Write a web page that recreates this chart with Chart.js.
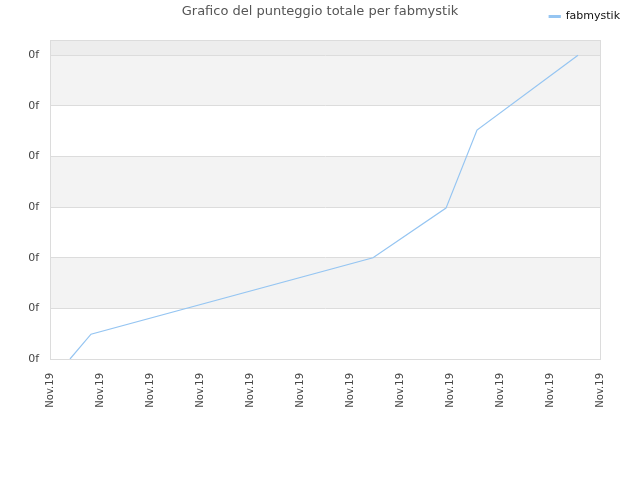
<!DOCTYPE html>
<html>
<head>
<meta charset="utf-8">
<script src="https://cdn.jsdelivr.net/npm/chart.js@4"></script>
<style>
  html, body { margin: 0; padding: 0; background: #fff; }
  #wrap { width: 640px; height: 480px; }
</style>
</head>
<body>
<div id="wrap"><canvas id="scoreChart" width="640" height="480"></canvas></div>
<script>
// values
const seriesName = "fabmystik";
const xValues = [0.4, 0.82, 6.46, 7.92, 8.54, 10.56];
const yValues = [0, 0.49, 2.0, 2.98, 4.52, 6.0];
const xTickLabels = ["Nov.19", "Nov.19", "Nov.19", "Nov.19", "Nov.19", "Nov.19",
                     "Nov.19", "Nov.19", "Nov.19", "Nov.19", "Nov.19", "Nov.19"];
const yTickLabels = ["0f", "0f", "0f", "0f", "0f", "0f", "0f"];
const chartTitle = "Grafico del punteggio totale per fabmystik";

const lineColor = "#95c5f2";

// alternating bands behind the plot + frame
const bandsPlugin = {
    id: 'bands',
    beforeDraw(chart) {
        const ctx = chart.ctx;
        const area = chart.chartArea;
        const y = chart.scales.y;
        ctx.save();
        for (let i = 0; i < yTickLabels.length; i++) {
            const top = (i === yTickLabels.length - 1) ? area.top : y.getPixelForValue(i + 1);
            const bottom = y.getPixelForValue(i);
            if (i === yTickLabels.length - 1) {
                ctx.fillStyle = "#ededed";
            } else {
                ctx.fillStyle = (i % 2 === 1) ? "#f3f3f3" : "#ffffff";
            }
            ctx.fillRect(area.left, top, area.right - area.left, bottom - top);
        }
        ctx.restore();
    },
    afterDraw(chart) {
        const ctx = chart.ctx;
        const area = chart.chartArea;
        ctx.save();
        ctx.strokeStyle = "#dcdcdc";
        ctx.lineWidth = 1;
        ctx.strokeRect(area.left + 0.5, area.top + 0.5, area.right - area.left, area.bottom - area.top);
        // title shares the row with the legend, so draw it here
        ctx.fillStyle = "#555";
        ctx.font = "13px 'DejaVu Sans'";
        ctx.textAlign = "center";
        ctx.textBaseline = "middle";
        ctx.fillText(chartTitle, chart.width / 2, 12);
        ctx.restore();
    }
};

const ctx = document.getElementById('scoreChart').getContext('2d');
const scoreChart = new Chart(ctx, {
    type: 'line',
    data: {
        datasets: [{
            label: seriesName,
            data: xValues.map((x, i) => ({ x: x, y: yValues[i] })),
            borderColor: lineColor,
            backgroundColor: lineColor,
            borderWidth: 1.2,
            pointRadius: 0,
            fill: false,
            tension: 0
        }]
    },
    options: {
        responsive: false,
        animation: false,
        layout: {
            padding: { left: 0, right: 10, top: 1, bottom: 0 }
        },
        plugins: {
            title: { display: false },
            tooltip: { enabled: false },
            legend: {
                position: 'top',
                align: 'end',
                labels: {
                    boxWidth: 11,
                    boxHeight: 2,
                    padding: 10,
                    color: '#111',
                    font: { family: 'DejaVu Sans', size: 11 }
                }
            }
        },
        scales: {
            x: {
                type: 'linear',
                min: 0,
                max: xTickLabels.length - 1,
                grid: { display: false },
                border: { color: '#dcdcdc' },
                ticks: {
                    stepSize: 1,
                    autoSkip: false,
                    minRotation: 90,
                    maxRotation: 90,
                    padding: 6,
                    color: '#444',
                    font: { family: 'DejaVu Sans', size: 10 },
                    callback: (v) => xTickLabels[v]
                },
                afterFit(scale) { scale.height = 121; }
            },
            y: {
                min: 0,
                max: 6.3,
                grid: { color: '#dcdcdc', drawTicks: false },
                border: { color: '#dcdcdc' },
                ticks: {
                    stepSize: 1,
                    padding: 11,
                    color: '#444',
                    font: { family: 'DejaVu Sans', size: 11 },
                    callback: (v) => (Number.isInteger(v) ? yTickLabels[v] : null)
                },
                afterFit(scale) { scale.width = 50; }
            },
            // empty gutters: legend sits further right than the plot, and higher
            gutter: {
                position: 'right',
                grid: { display: false },
                border: { display: false },
                ticks: { display: false },
                afterFit(scale) { scale.width = 30; }
            },
            topGap: {
                axis: 'x',
                position: 'top',
                grid: { display: false },
                border: { display: false },
                ticks: { display: false },
                afterFit(scale) { scale.height = 8; }
            }
        }
    },
    plugins: [bandsPlugin]
});
</script>
</body>
</html>
